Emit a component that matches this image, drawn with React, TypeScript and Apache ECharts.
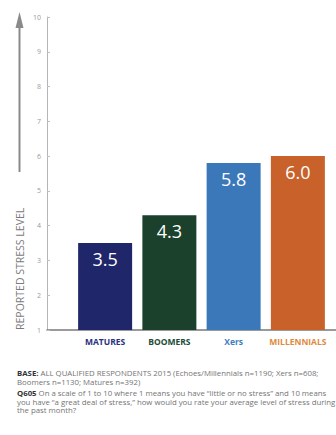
import React, { useEffect, useRef } from "react";
import * as echarts from "echarts";

// Generations and their average reported stress (scale 1 to 10)
const categories = ["MATURES", "BOOMERS", "Xers", "MILLENNIALS"];
const stressValues = [3.5, 4.3, 5.8, 6.0];
const barColors = ["#20266a", "#1b412d", "#3b78ba", "#c9612b"];
const labelColors = ["#2b3080", "#214b35", "#3c7dc0", "#e08a3c"];
const yTicks = { min: 1, max: 10, interval: 1 };

const axisTitle = "REPORTED STRESS LEVEL";
const footnoteLines = [
  "{b|BASE:} ALL QUALIFIED RESPONDENTS 2015 (Echoes/Millennials n=1190; Xers n=608;",
  "Boomers n=1130; Matures n=392)",
  "{b|Q605} On a scale of 1 to 10 where 1 means you have \u201clittle or no stress\u201d and 10 means",
  "you have \u201ca great deal of stress,\u201d how would you rate your average level of stress during",
  "the past month?",
];
const footnoteY = [372.5, 382, 393, 401.5, 410];

const FONT = "'Open Sans', 'Noto Sans', sans-serif";

export default function App() {
  const ref = useRef<HTMLDivElement>(null);

  useEffect(() => {
    if (!ref.current) return;
    const chart = echarts.init(ref.current, null, { renderer: "svg" });

    const option: echarts.EChartsOption = {
      animation: false,
      backgroundColor: "#ffffff",
      textStyle: { fontFamily: FONT },
      grid: [
        // bars
        { left: 73, width: 257, top: 17, height: 313 },
        // axis frame spanning the full plot width
        { left: 47, right: 0, top: 17, height: 313 },
      ],
      xAxis: [
        {
          type: "category",
          gridIndex: 0,
          data: categories,
          axisLine: { show: false },
          axisTick: { show: false },
          axisLabel: {
            interval: 0,
            hideOverlap: false,
            margin: 7,
            fontSize: 8.5,
            fontWeight: "bold",
            fontFamily: FONT,
            color: ((_v: string, i: number) => labelColors[i]) as any,
          },
        },
        {
          type: "value",
          gridIndex: 1,
          min: 0,
          max: 1,
          axisLine: { show: true, lineStyle: { color: "#7a7a7a", width: 1.5 } },
          axisTick: { show: false },
          axisLabel: { show: false },
          splitLine: { show: false },
        },
      ],
      yAxis: [
        {
          type: "value",
          gridIndex: 0,
          min: yTicks.min,
          max: yTicks.max,
          interval: yTicks.interval,
          show: false,
        },
        {
          type: "value",
          gridIndex: 1,
          min: yTicks.min,
          max: yTicks.max,
          interval: yTicks.interval,
          axisLine: { show: true, lineStyle: { color: "#b5b5b5", width: 1 } },
          axisTick: { show: true, inside: true, length: 3, lineStyle: { color: "#c0c0c0" } },
          axisLabel: { margin: 6, fontSize: 7, color: "#9a9a9a", fontFamily: FONT },
          splitLine: { show: false },
        },
      ],
      series: [
        {
          type: "bar",
          xAxisIndex: 0,
          yAxisIndex: 0,
          barWidth: 54,
          data: stressValues.map((v, i) => ({
            value: v,
            itemStyle: { color: barColors[i] },
          })),
          label: {
            show: true,
            position: "insideTop",
            distance: 7,
            fontSize: 18,
            fontFamily: FONT,
            color: "#ffffff",
            formatter: (p: any) => Number(p.value).toFixed(1),
          },
        },
      ],
      graphic: [
        // upward arrow beside the axis title
        {
          type: "line",
          shape: { x1: 19.5, y1: 26, x2: 19.5, y2: 172 },
          style: { stroke: "#8a8a8a", lineWidth: 2 },
        },
        {
          type: "polygon",
          shape: { points: [[19.5, 12], [15.5, 28], [23.5, 28]] },
          style: { fill: "#8a8a8a" },
        },
        {
          type: "text",
          x: 20,
          y: 330,
          rotation: Math.PI / 2,
          style: {
            text: axisTitle,
            font: `10.5px ${FONT}`,
            fill: "#7a7a7a",
            align: "left",
            verticalAlign: "middle",
          },
        },
        ...footnoteLines.map((line, i) => ({
          type: "text" as const,
          x: 17,
          y: footnoteY[i],
          style: {
            text: line,
            font: `7.8px ${FONT}`,
            lineHeight: 9,
            fill: "#747474",
            align: "left" as const,
            verticalAlign: "middle" as const,
            rich: {
              b: {
                fontWeight: "bold" as const,
                fill: "#333333",
                fontSize: 7.8,
                lineHeight: 9,
                fontFamily: FONT,
              },
            },
          },
        })),
      ],
    };

    chart.setOption(option);
    return () => chart.dispose();
  }, []);

  return (
    <div
      ref={ref}
      style={{ position: "fixed", left: 0, top: 0, width: 336, height: 435 }}
    />
  );
}
